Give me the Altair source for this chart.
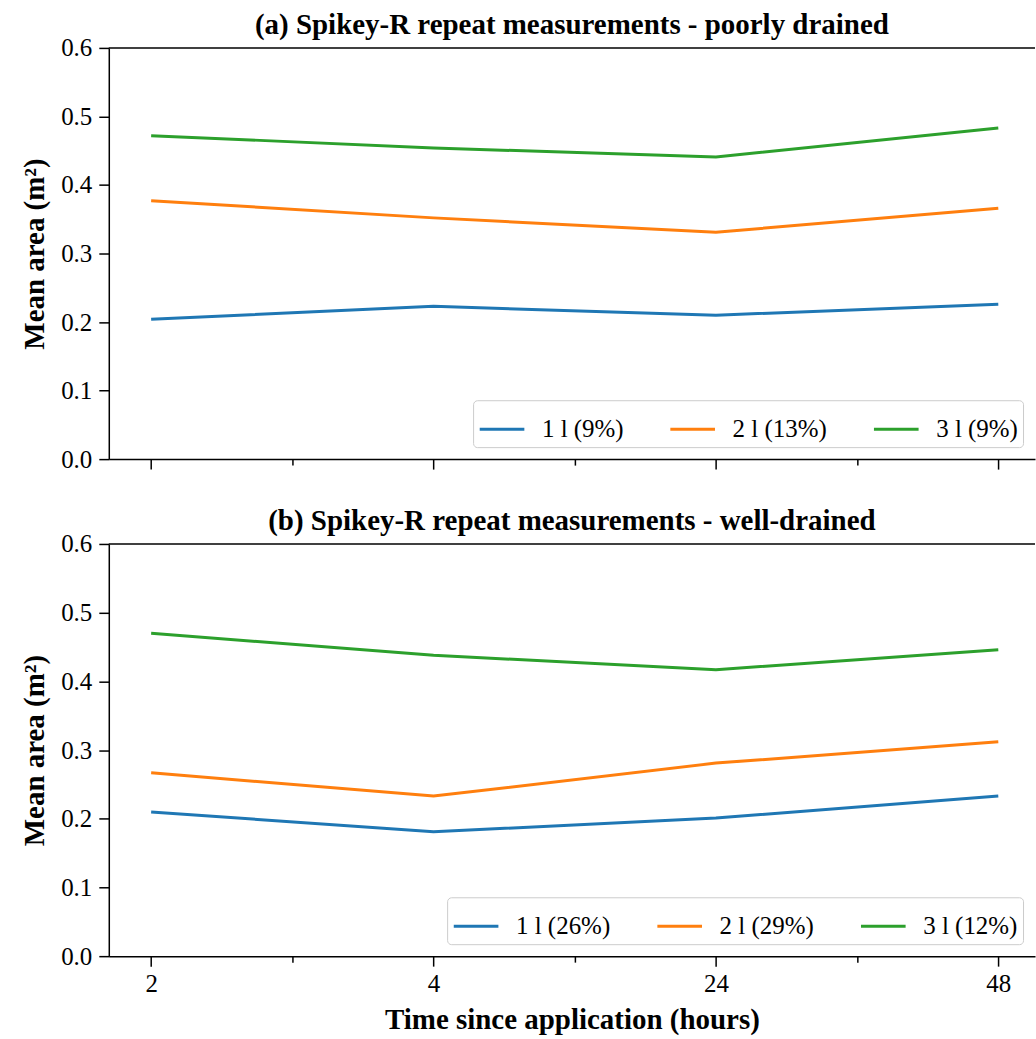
import altair as alt
import pandas as pd

# ---- data ----
times = ["2", "4", "24", "48"]
pos = [0, 1, 2, 3]

labels_a = ["1 l (9%)", "2 l (13%)", "3 l (9%)"]
labels_b = ["1 l (26%)", "2 l (29%)", "3 l (12%)"]

a_1l = [0.204, 0.223, 0.210, 0.226]
a_2l = [0.377, 0.352, 0.331, 0.366]
a_3l = [0.472, 0.454, 0.441, 0.483]

b_1l = [0.210, 0.181, 0.201, 0.233]
b_2l = [0.267, 0.233, 0.281, 0.312]
b_3l = [0.470, 0.438, 0.417, 0.446]

colors = ["#1f77b4", "#ff7f0e", "#2ca02c"]

titles = ["(a) Spikey-R repeat measurements - poorly drained",
          "(b) Spikey-R repeat measurements - well-drained"]

FONT = "Liberation Serif"
W = 928


def make_df(labels, series):
    rows = []
    for lab, vals in zip(labels, series):
        for p, t, v in zip(pos, times, vals):
            rows.append({"pos": p, "time": t, "series": lab, "value": v})
    return pd.DataFrame(rows)


label_expr = " : ".join(
    f"datum.value == {p} ? '{t}'" for p, t in zip(pos, times)
) + " : ''"


def panel(df, labels, title, bottom, h):
    xaxis = alt.Axis(
        values=[0, 0.5, 1, 1.5, 2, 2.5, 3],
        labels=bottom,
        labelExpr=label_expr,
        tickSize={"condition": {"test": "datum.value % 1 == 0", "value": 10}, "value": 6},
        title="Time since application (hours)" if bottom else None,
        labelPadding=5,
        titlePadding=9,
    )
    lines = alt.Chart(df).mark_line(strokeWidth=3).encode(
        x=alt.X("pos:Q", scale=alt.Scale(domain=[-0.15, 3.13], nice=False, zero=False), axis=xaxis),
        y=alt.Y("value:Q", scale=alt.Scale(domain=[0, 0.6], nice=False, zero=True),
                axis=alt.Axis(values=[0, 0.1, 0.2, 0.3, 0.4, 0.5, 0.6], format=".1f",
                              title="Mean area (m²)", tickSize=10, labelPadding=7,
                              titlePadding=11)),
        color=alt.Color("series:N",
                        scale=alt.Scale(domain=labels, range=colors),
                        sort=labels,
                        legend=alt.Legend(
                            title=None, orient="bottom-right", direction="horizontal",
                            columns=3, symbolType="stroke", symbolSize=2000,
                            symbolStrokeWidth=3, labelFont=FONT, labelFontSize=25,
                            labelColor="black", columnPadding=40, labelOffset=16,
                            padding=5, strokeColor="#cccccc", fillColor="white",
                            cornerRadius=4, offset=12)),
    )
    top = alt.Chart(alt.Data(values=[{}])).mark_rule(color="black", strokeWidth=1.5).encode(
        x=alt.value(0), x2=alt.value(W), y=alt.value(0)
    )
    return alt.layer(lines, top).properties(
        width=W, height=h,
        title=alt.TitleParams(title, font=FONT, fontSize=29, fontWeight="bold",
                              anchor="middle", color="black", offset=-4),
    )


df_a = make_df(labels_a, [a_1l, a_2l, a_3l])
df_b = make_df(labels_b, [b_1l, b_2l, b_3l])

chart = alt.vconcat(
    panel(df_a, labels_a, titles[0], False, 412),
    panel(df_b, labels_b, titles[1], True, 413),
    spacing=35,
).resolve_scale(color="independent").configure_view(stroke=None).configure_axis(
    labelFont=FONT, labelFontSize=25, labelColor="black",
    titleFont=FONT, titleFontSize=29, titleFontWeight="bold", titleColor="black",
    domainColor="black", domainWidth=1.5, tickColor="black", tickWidth=1.5, grid=False,
).properties(padding={"left": 20, "right": 0, "top": 10, "bottom": 2})

chart.save("out.html", embed_options={"renderer": "svg", "actions": False})
